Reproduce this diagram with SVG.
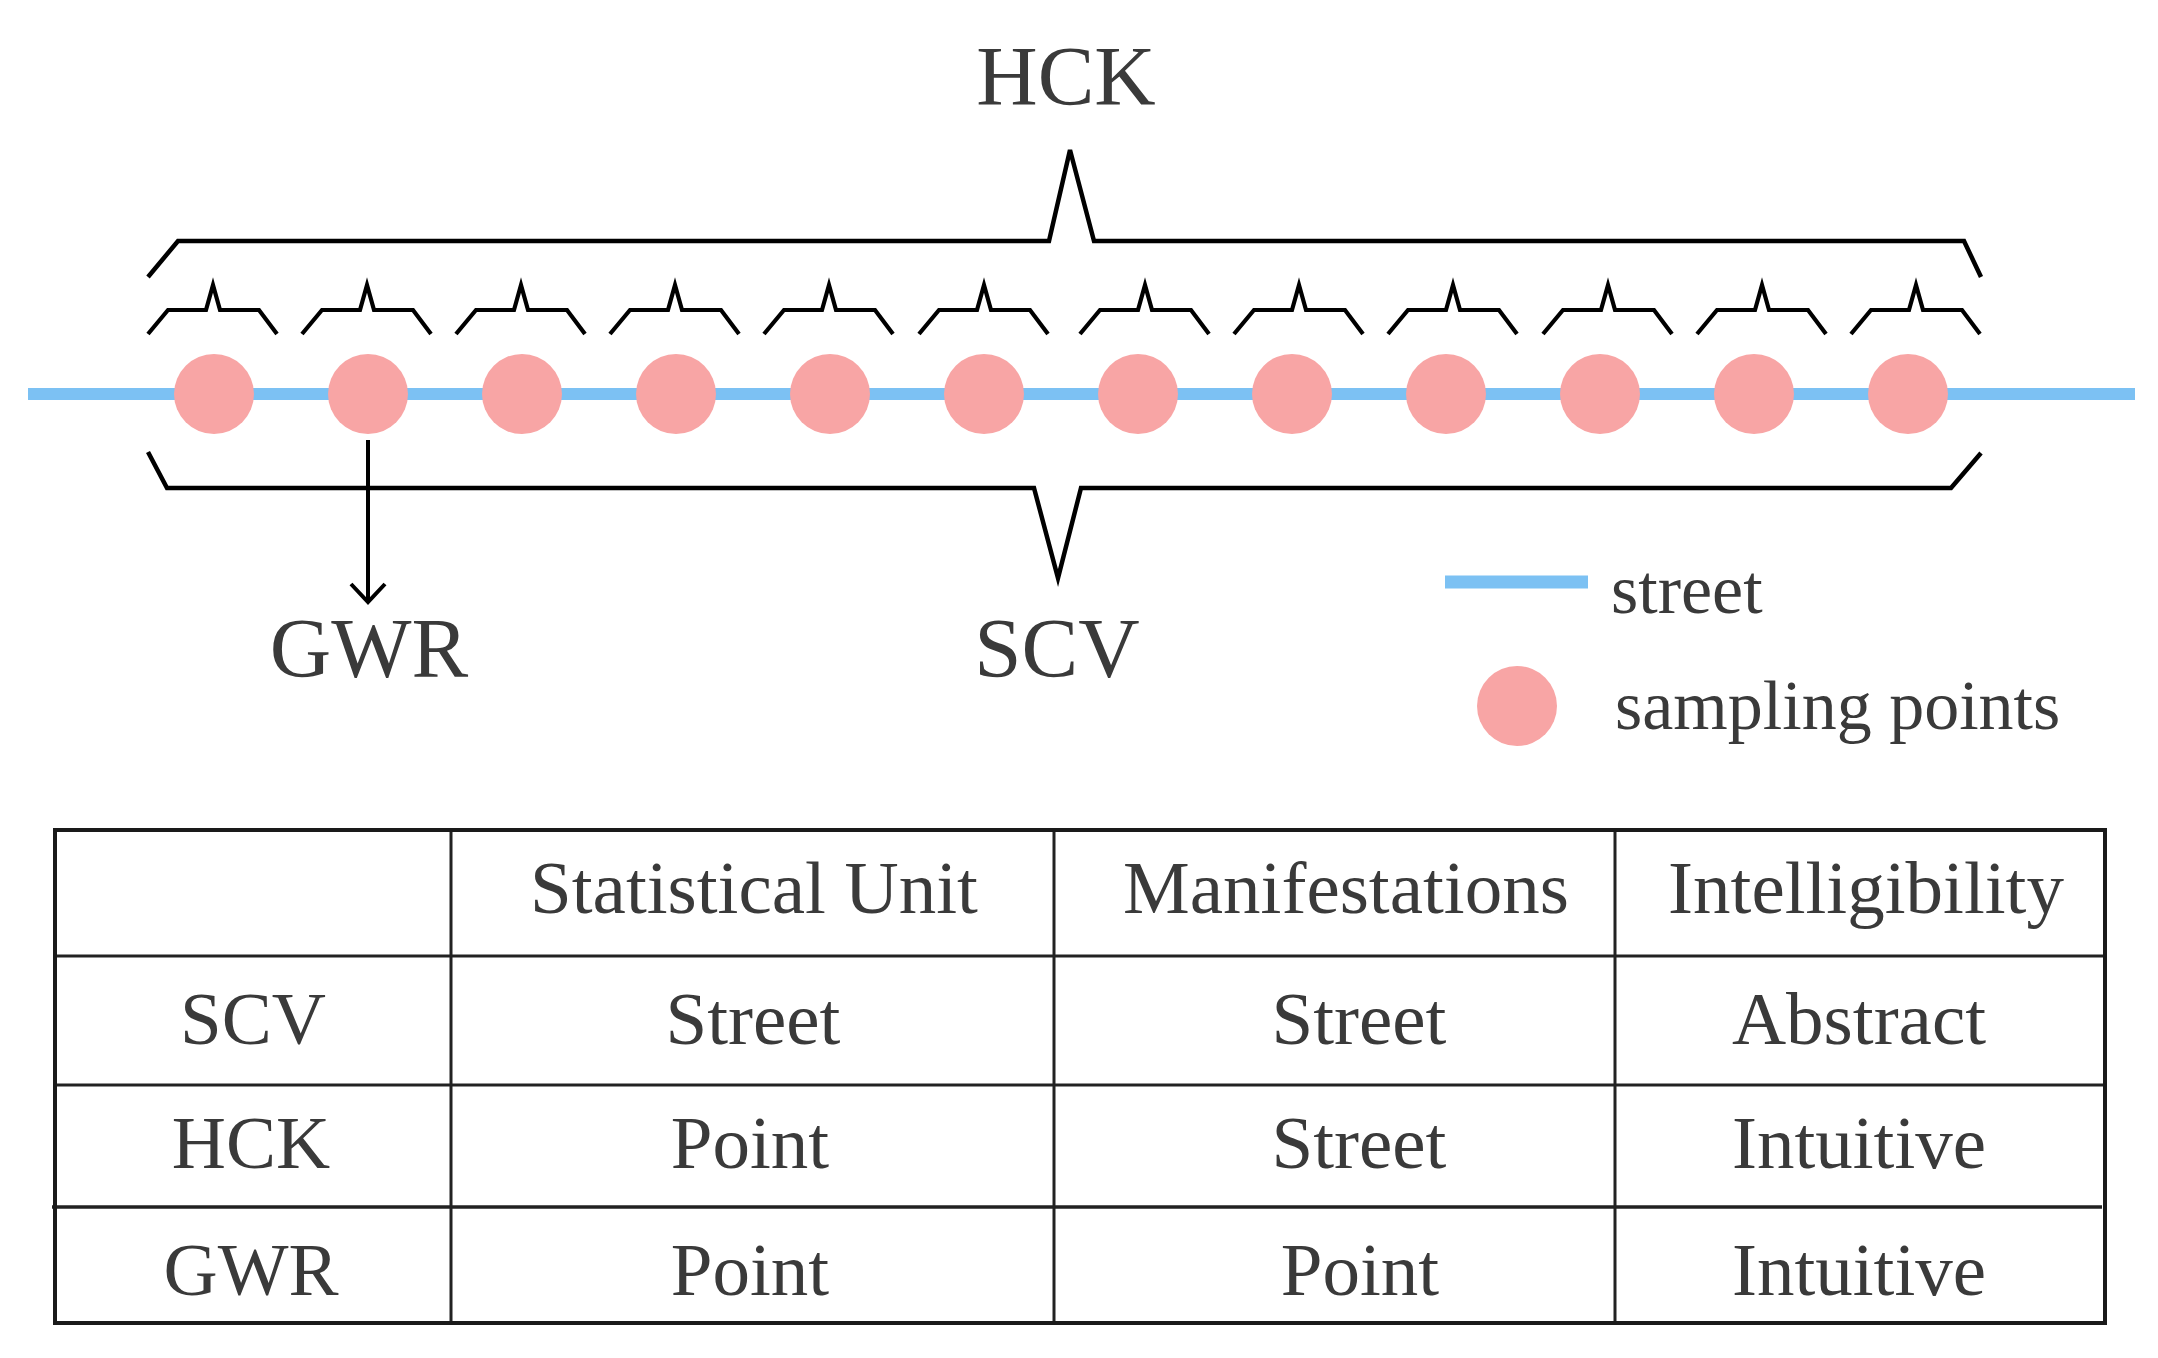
<svg xmlns="http://www.w3.org/2000/svg" width="2158" height="1358" viewBox="0 0 2158 1358">
<style>
  .t { font-family: "Liberation Serif", "Times New Roman", serif; fill: #3a3a3a; }
  .lbl { font-size: 85px; text-anchor: middle; }
  .leg { font-size: 70px; }
  .cell { font-size: 75px; text-anchor: middle; }
  .brace { fill: none; stroke: #000; stroke-width: 4.2; stroke-linejoin: miter; }
  .big { fill: none; stroke: #000; stroke-width: 4.5; }
  .street { stroke: #7cc1f3; stroke-width: 12; }
  .pt { fill: #f8a5a5; }
  .grid { stroke: #222; stroke-width: 3; }
  .outer { fill: none; stroke: #1a1a1a; stroke-width: 4; }
</style>
<defs>
  <path id="sb" d="M0,334 L20,310 L58,310 L65,285 L72,310 L111,310 L129,334"/>
</defs>
<rect width="2158" height="1358" fill="#fff"/>

<g id="street">
  <line class="street" x1="28" y1="394" x2="2135" y2="394"/>
</g>

<g id="sampling-points">
  <circle class="pt" cx="214" cy="394" r="40"/>
  <circle class="pt" cx="368" cy="394" r="40"/>
  <circle class="pt" cx="522" cy="394" r="40"/>
  <circle class="pt" cx="676" cy="394" r="40"/>
  <circle class="pt" cx="830" cy="394" r="40"/>
  <circle class="pt" cx="984" cy="394" r="40"/>
  <circle class="pt" cx="1138" cy="394" r="40"/>
  <circle class="pt" cx="1292" cy="394" r="40"/>
  <circle class="pt" cx="1446" cy="394" r="40"/>
  <circle class="pt" cx="1600" cy="394" r="40"/>
  <circle class="pt" cx="1754" cy="394" r="40"/>
  <circle class="pt" cx="1908" cy="394" r="40"/>
</g>

<g id="small-braces" class="brace">
  <use href="#sb" x="148"/>
  <use href="#sb" x="302"/>
  <use href="#sb" x="456"/>
  <use href="#sb" x="610"/>
  <use href="#sb" x="764"/>
  <use href="#sb" x="919"/>
  <use href="#sb" x="1080"/>
  <use href="#sb" x="1234"/>
  <use href="#sb" x="1388"/>
  <use href="#sb" x="1543"/>
  <use href="#sb" x="1697"/>
  <use href="#sb" x="1851"/>
</g>

<g id="hck-brace">
  <path class="big" d="M148,277 L178,241 L1049,241 L1070,150 L1094,241 L1964,241 L1981,277"/>
</g>

<g id="scv-brace">
  <path class="big" d="M148,452 L167,488 L1034,488 L1058,578 L1081,488 L1951,488 L1981,453"/>
</g>

<g id="connectors">
  <line x1="368" y1="440" x2="368" y2="602" stroke="#000" stroke-width="4"/>
  <path d="M351,584 L368,602 L385,584" fill="none" stroke="#000" stroke-width="4"/>
</g>

<g id="label-hck"><text class="t lbl" x="1066" y="105">HCK</text></g>
<g id="label-gwr"><text class="t lbl" x="369" y="677">GWR</text></g>
<g id="label-scv"><text class="t lbl" x="1057" y="677">SCV</text></g>

<g id="legend">
  <line class="street" x1="1445" y1="582" x2="1588" y2="582" style="stroke-width:13"/>
  <text class="t leg" x="1611" y="613">street</text>
  <circle class="pt" cx="1517" cy="706" r="40"/>
  <text class="t leg" x="1615" y="729">sampling points</text>
</g>

<g id="table">
  <line class="grid" x1="55" y1="956" x2="2105" y2="956"/>
  <line class="grid" x1="55" y1="1085" x2="2105" y2="1085"/>
  <line class="grid" x1="52" y1="1207" x2="2102" y2="1207" style="stroke-width:3.5"/>
  <line class="grid" x1="451" y1="830" x2="451" y2="1323"/>
  <line class="grid" x1="1054" y1="830" x2="1054" y2="1323"/>
  <line class="grid" x1="1615" y1="830" x2="1615" y2="1323"/>
  <rect class="outer" x="55" y="830" width="2050" height="493"/>

  <text class="t cell" x="754" y="913">Statistical Unit</text>
  <text class="t cell" x="1346" y="913">Manifestations</text>
  <text class="t cell" x="1866" y="913">Intelligibility</text>

  <text class="t cell" x="253" y="1044">SCV</text>
  <text class="t cell" x="753" y="1044">Street</text>
  <text class="t cell" x="1359" y="1044">Street</text>
  <text class="t cell" x="1859" y="1044">Abstract</text>

  <text class="t cell" x="251" y="1168">HCK</text>
  <text class="t cell" x="750" y="1168">Point</text>
  <text class="t cell" x="1359" y="1168">Street</text>
  <text class="t cell" x="1859" y="1168">Intuitive</text>

  <text class="t cell" x="251" y="1295">GWR</text>
  <text class="t cell" x="750" y="1295">Point</text>
  <text class="t cell" x="1360" y="1295">Point</text>
  <text class="t cell" x="1859" y="1295">Intuitive</text>
</g>
</svg>
